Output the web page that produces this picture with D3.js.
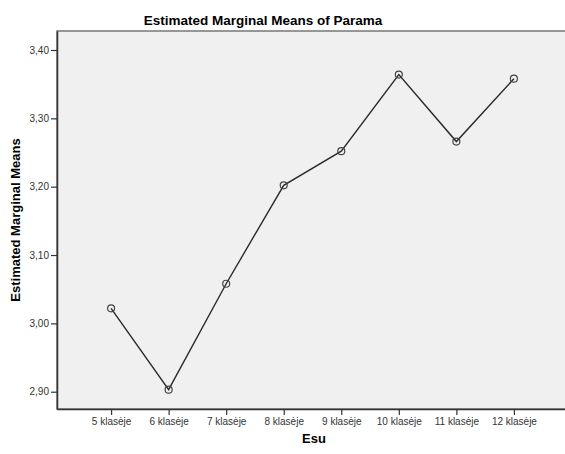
<!DOCTYPE html>
<html>
<head>
<meta charset="utf-8">
<script src="https://cdn.jsdelivr.net/npm/d3@7"></script>
<style>
  body { margin: 0; background: #fff; }
  text { font-family: "Liberation Sans", Arial, sans-serif; }
</style>
</head>
<body>
<div id="chart"></div>
<script>
// data
var categories = ["5 klasėje", "6 klasėje", "7 klasėje", "8 klasėje",
  "9 klasėje", "10 klasėje", "11 klasėje", "12 klasėje"];
var means = [3.022, 2.903, 3.058, 3.202, 3.252, 3.364, 3.266, 3.358];
var yTicks = [2.9, 3.0, 3.1, 3.2, 3.3, 3.4];

var W = 565, H = 454;
var margin = { top: 31, right: -3, bottom: 45, left: 57 },
  width = W - margin.left - margin.right,
  height = H - margin.top - margin.bottom;

var svg = d3.select("#chart").append("svg")
  .attr("width", W)
  .attr("height", H);

var g = svg.append("g")
  .attr("transform", "translate(" + margin.left + "," + margin.top + ")");

var x = d3.scalePoint().domain(categories).range([0, width]).padding(0.94);
var y = d3.scaleLinear().domain([2.8747, 3.4278]).range([height, 0]);

// plot background
g.append("rect")
  .attr("width", width)
  .attr("height", height)
  .attr("fill", "#f0f0f0")
  .attr("stroke", "#777")
  .attr("stroke-width", 1.5);

// Y axis
var yAxis = g.append("g")
  .call(d3.axisLeft(y).tickValues(yTicks).tickSize(6).tickSizeOuter(0).tickPadding(2)
    .tickFormat(function (d) { return d3.format(".2f")(d).replace(".", ","); }));
yAxis.select(".domain").attr("stroke", "#333").attr("stroke-width", 1.5);
yAxis.selectAll(".tick line").attr("stroke", "#333").attr("stroke-width", 1.2);
yAxis.selectAll("text").attr("fill", "#333").style("font-size", "10px")
  .style("font-family", "Liberation Sans, Arial, sans-serif");

// X axis
var xAxis = g.append("g")
  .attr("transform", "translate(0," + height + ")")
  .call(d3.axisBottom(x).tickSize(6).tickSizeOuter(0).tickPadding(3));
xAxis.select(".domain").attr("stroke", "#333").attr("stroke-width", 1.5);
xAxis.selectAll(".tick line").attr("stroke", "#333").attr("stroke-width", 1.2);
xAxis.selectAll("text").attr("fill", "#333").style("font-size", "10px")
  .style("font-family", "Liberation Sans, Arial, sans-serif");

// line
var line = d3.line()
  .x(function (d, i) { return x(categories[i]); })
  .y(function (d) { return y(d); });

g.append("path")
  .datum(means)
  .attr("fill", "none")
  .attr("stroke", "#2a2a2a")
  .attr("stroke-width", 1.4)
  .attr("d", line);

// markers
g.selectAll("circle.pt")
  .data(means)
  .enter()
  .append("circle")
  .attr("class", "pt")
  .attr("cx", function (d, i) { return x(categories[i]); })
  .attr("cy", function (d) { return y(d); })
  .attr("r", 3.5)
  .attr("fill", "none")
  .attr("stroke", "#444")
  .attr("stroke-width", 1.2);

// titles
svg.append("text")
  .attr("x", 263)
  .attr("y", 25)
  .attr("text-anchor", "middle")
  .style("font-size", "13.5px")
  .style("font-weight", "bold")
  .text("Estimated Marginal Means of Parama");

svg.append("text")
  .attr("x", 314)
  .attr("y", 443)
  .attr("text-anchor", "middle")
  .style("font-size", "13px")
  .style("font-weight", "bold")
  .text("Esu");

svg.append("text")
  .attr("transform", "translate(20," + (margin.top + height / 2) + ")rotate(-90)")
  .attr("text-anchor", "middle")
  .style("font-size", "13px")
  .style("font-weight", "bold")
  .text("Estimated Marginal Means");
</script>
</body>
</html>
